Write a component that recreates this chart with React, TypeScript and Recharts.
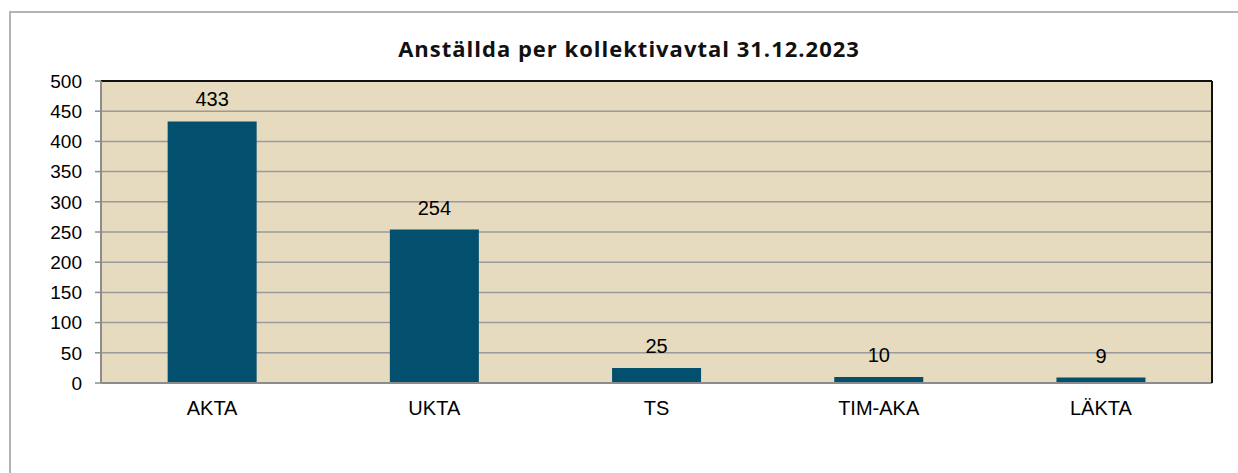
import {
  Bar,
  BarChart,
  CartesianGrid,
  LabelList,
  XAxis,
  YAxis,
} from "recharts";

const categories = ["AKTA", "UKTA", "TS", "TIM-AKA", "LÄKTA"];
const employees = [433, 254, 25, 10, 9];
const yTicks = [0, 50, 100, 150, 200, 250, 300, 350, 400, 450, 500];

const data = categories.map((name, i) => ({ name, value: employees[i] }));
// tick marks sit between the categories, like in Excel
const boundaryTicks = categories.map((_, i) => i).concat(categories.length);

const labelFont = "'Liberation Sans', Arial, sans-serif";

const App = () => {
  return (
    <div
      style={{
        position: "absolute",
        left: 0,
        top: 0,
        width: 1238,
        height: 473,
        background: "#fff",
        overflow: "hidden",
      }}
    >
      <div
        style={{
          position: "absolute",
          left: 9,
          top: 11,
          width: 1300,
          height: 600,
          borderLeft: "2px solid #b4b4b4",
          borderTop: "2px solid #b4b4b4",
        }}
      />
      <div
        style={{
          position: "absolute",
          left: 0,
          top: 33,
          width: 1258,
          textAlign: "center",
          fontFamily: "'Open Sans', sans-serif",
          fontWeight: 700,
          fontSize: 22,
          letterSpacing: 1,
          color: "#111",
        }}
      >
        Anställda per kollektivavtal 31.12.2023
      </div>
      <div style={{ position: "absolute", left: 0, top: 0 }}>
        <BarChart
          width={1238}
          height={473}
          data={data}
          margin={{ top: 80, right: 25, left: 0, bottom: 59 }}
          barCategoryGap="30%"
        >
          <CartesianGrid
            xAxisId="b"
            yAxisId="left"
            vertical={false}
            fill="#E6DBBE"
            fillOpacity={1}
            stroke="#9a9a9a"
            strokeWidth={1.5}
          />
          <XAxis
            xAxisId="a"
            type="number"
            domain={[0, categories.length]}
            ticks={boundaryTicks}
            height={1}
            tick={false}
            tickSize={6}
            axisLine={{ stroke: "#8c8c8c", strokeWidth: 2 }}
            tickLine={{ stroke: "#8c8c8c", strokeWidth: 1.5 }}
          />
          <XAxis
            xAxisId="b"
            dataKey="name"
            height={30}
            axisLine={false}
            tickLine={false}
            tickSize={6}
            tickMargin={11}
            tick={{ fill: "#000", fontSize: 20, fontFamily: labelFont }}
          />
          <XAxis
            xAxisId="top"
            orientation="top"
            height={1}
            tick={false}
            tickLine={false}
            axisLine={{ stroke: "#111", strokeWidth: 2 }}
          />
          <YAxis
            yAxisId="left"
            domain={[0, 500]}
            ticks={yTicks}
            width={101}
            tickSize={6}
            tickMargin={13}
            axisLine={{ stroke: "#8c8c8c", strokeWidth: 2 }}
            tickLine={{ stroke: "#8c8c8c", strokeWidth: 1.5 }}
            tick={{ fill: "#000", fontSize: 19, fontFamily: labelFont }}
          />
          <YAxis
            yAxisId="right"
            orientation="right"
            domain={[0, 500]}
            width={1}
            tick={false}
            tickLine={false}
            axisLine={{ stroke: "#111", strokeWidth: 2 }}
          />
          <Bar
            xAxisId="b"
            yAxisId="left"
            dataKey="value"
            fill="#034F6E"
            isAnimationActive={false}
          >
            <LabelList
              dataKey="value"
              position="top"
              offset={15}
              fill="#000"
              fontSize={20}
              fontFamily={labelFont}
            />
          </Bar>
        </BarChart>
      </div>
    </div>
  );
};

export default App;
